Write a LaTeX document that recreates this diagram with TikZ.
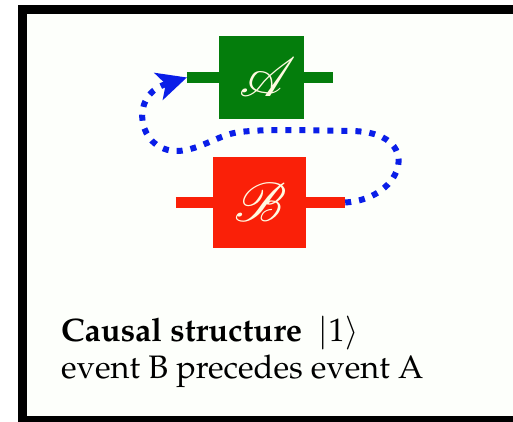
\documentclass[tikz,border=0pt]{standalone}
\usepackage[T1]{fontenc}
\usepackage{mathpazo}
\usetikzlibrary{arrows.meta,positioning}
\DeclareFontFamily{U}{csrsfs}{\skewchar\font127}
\DeclareFontShape{U}{csrsfs}{m}{n}{<-> rsfs10}{}
\newcommand{\gatesym}[1]{{\usefont{U}{csrsfs}{m}{n}#1}}
\definecolor{csGreen}{RGB}{  4,125, 12}
\definecolor{csRed}  {RGB}{250, 32,  8}
\definecolor{csBlue} {RGB}{ 10, 30,232}
\definecolor{csCream}{RGB}{255,250,225}
\definecolor{csPaper}{RGB}{253,255,251}

\begin{document}
\begin{tikzpicture}[x=1pt,y=1pt,
  gate/.style={inner sep=0pt,text=csCream,
               font=\fontsize{55}{55}\selectfont},
  wire/.style={line width=11pt},
  loop/.style={csBlue,line width=6pt,dash pattern=on 6pt off 8pt,
               -{Stealth[length=30pt,width=29pt,inset=8pt,line width=0pt]}},
  caption/.style={anchor=base west,inner sep=0pt,
                  font=\fontsize{32.5}{40}\selectfont}
]
\clip (0,0) rectangle (513,421);
\fill[white] (0,0) rectangle (513,421);
\draw[line width=9pt,fill=csPaper] (22.5,411.5) rectangle (540,1);

\node[gate,fill=csGreen,minimum width=85pt,minimum height=83pt] (A) at (261.5,343.5) {\gatesym{A}};
\node[gate,fill=csRed,minimum width=93pt,minimum height=91pt] (B) at (259.5,218.5) {\gatesym{B}};

\coordinate[left=32pt of A]  (Ain);
\coordinate[right=29pt of A] (Aout);
\coordinate[left=37pt of B]  (Bin);
\coordinate[right=39pt of B] (Bout);

\draw[wire,csGreen] (Ain) -- (A.west);
\draw[wire,csGreen] (A.east) -- (Aout);
\draw[wire,csRed] (Bin) -- (B.west);
\draw[wire,csRed] (B.east) -- (Bout);

\draw[loop] (Bout) .. controls (405,222) and (425,290) .. (350,290)
  .. controls (300,291) and (265,292) .. (240,289)
  .. controls (220,287) and (200,271) .. (178,270)
  .. controls (138,269) and (128,325) .. (Ain);

\node[caption] (title) at (61,80) {\textbf{Causal structure} \ $|1\rangle$};
\node[caption] (event) at (61,43) {event B precedes event A};
\end{tikzpicture}
\end{document}
